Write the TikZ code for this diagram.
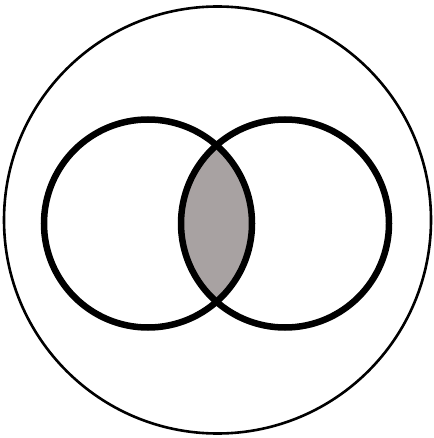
\documentclass[tikz,border=0pt]{standalone}
\definecolor{lensgray}{RGB}{168,162,162}
\tikzset{
  outerring/.style={draw=black, line width=2.6pt},
  setring/.style={draw=black, line width=6.5pt},
}
\begin{document}
\begin{tikzpicture}[x=1pt,y=-1pt]
\useasboundingbox (0,0) rectangle (433,438);
\fill[white] (0,0) rectangle (433,438);
% intersection fill
\begin{scope}
  \clip (148,223.5) circle[radius=104];
  \fill[lensgray] (285,223.5) circle[radius=104];
\end{scope}
\draw[outerring] (217.5,220) circle[radius=213.5];
\draw[setring] (148,223.5) circle[radius=104];
\draw[setring] (285,223.5) circle[radius=104];
\end{tikzpicture}
\end{document}
